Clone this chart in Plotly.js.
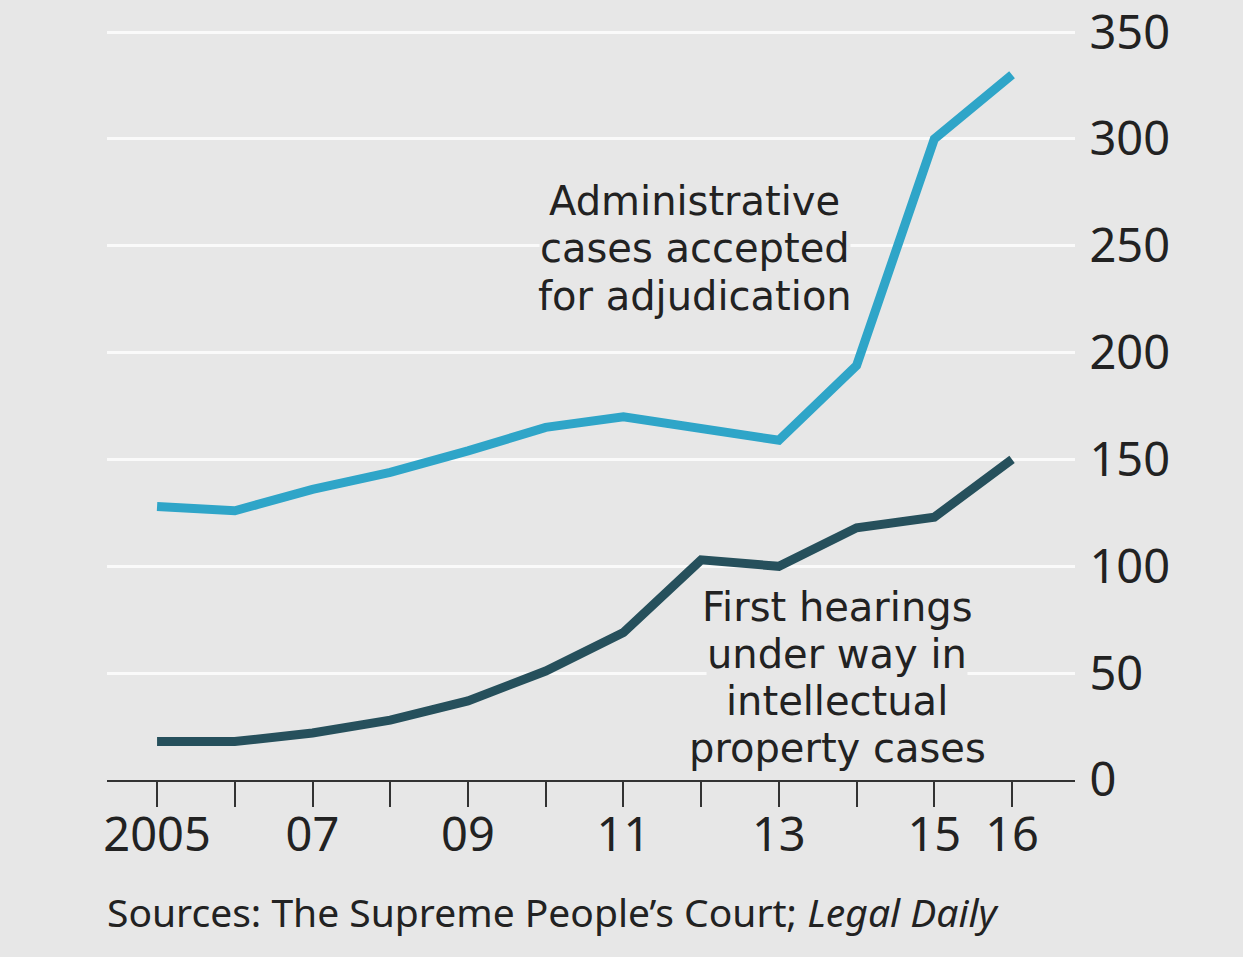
<!DOCTYPE html>
<html>
<head>
<meta charset="utf-8">
<script src="https://cdn.plot.ly/plotly-3.0.1.min.js"></script>
<style>
  html, body { margin: 0; padding: 0; background: #e7e7e7; }
  #chart { width: 1243px; height: 957px; }
</style>
</head>
<body>
<div id="chart"></div>
<script>
const years = [2005, 2006, 2007, 2008, 2009, 2010, 2011, 2012, 2013, 2014, 2015, 2016];
const adminCases = [128, 126, 136, 144, 154, 165, 170, 164, 159, 194, 300, 330];
const ipHearings = [18, 18, 22, 28, 37, 51, 69, 103, 100, 118, 123, 150];
const xTickText = ["2005", "", "07", "", "09", "", "11", "", "13", "", "15", "16"];
const yTickVals = [0, 50, 100, 150, 200, 250, 300, 350];
const adminLines = ["Administrative", "cases accepted", "for adjudication"];
const ipLines = ["First hearings", "under way in", "intellectual", "property cases"];
const sourceText = "Sources: The Supreme People\u2019s Court; <i>Legal Daily</i>";

const FONT = "Noto Sans, Open Sans, sans-serif";
const LABEL_FONT = "DejaVu Sans, Noto Sans, sans-serif";
const BG = "#e7e7e7";

const traces = [
  { x: years, y: adminCases, type: "scatter", mode: "lines",
    line: { color: "#2fa5c8", width: 9 }, hoverinfo: "skip" },
  { x: years, y: ipHearings, type: "scatter", mode: "lines",
    line: { color: "#26505c", width: 9 }, hoverinfo: "skip" }
];

// label blocks: one annotation per text line (anchor x, first-line y, step between lines)
function blockAnnotations(lines, xYear, yFirst, yStep) {
  return lines.map((t, i) => ({
    x: xYear, y: yFirst - i * yStep, xref: "x", yref: "y", text: t,
    showarrow: false, xanchor: "center", yanchor: "middle", align: "center",
    bgcolor: BG, borderpad: 0,
    font: { family: LABEL_FONT, size: 40, color: "#222" }
  }));
}

const annotations = []
  .concat(blockAnnotations(adminLines, 2011.92, 271, 22.2))
  .concat(blockAnnotations(ipLines, 2013.75, 81, 22))
  .concat([{ x: -0.002, y: -0.176, xref: "paper", yref: "paper", text: sourceText,
      showarrow: false, xanchor: "left", yanchor: "middle", align: "left",
      font: { family: FONT, size: 39, color: "#222" } }]);

const layout = {
  width: 1243, height: 957,
  margin: { l: 107, r: 168, t: 31, b: 177 },
  paper_bgcolor: BG, plot_bgcolor: BG,
  showlegend: false,
  font: { family: FONT, color: "#222", size: 40 },
  xaxis: {
    range: [2004.356, 2016.81],
    tickvals: years, ticktext: xTickText,
    ticks: "outside", ticklen: 25, tickwidth: 2, tickcolor: "#333",
    ticklabelstandoff: -12,
    showline: true, linecolor: "#333", linewidth: 2,
    showgrid: false, zeroline: false,
    tickfont: { family: FONT, size: 47, color: "#222" }
  },
  yaxis: {
    range: [0, 350.5], side: "right",
    tickvals: yTickVals,
    ticks: "outside", ticklen: 4, tickcolor: "rgba(0,0,0,0)",
    ticklabeloverflow: "allow",
    showgrid: true, gridcolor: "#fafafa", gridwidth: 3,
    zeroline: false, showline: false,
    tickfont: { family: FONT, size: 47, color: "#222" }
  },
  annotations: annotations
};

Plotly.newPlot("chart", traces, layout, { displayModeBar: false, staticPlot: true });
</script>
</body>
</html>
